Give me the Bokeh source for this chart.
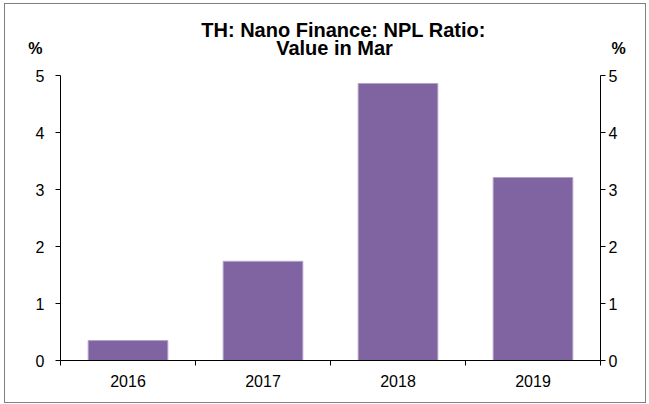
from bokeh.plotting import figure
from bokeh.models import Range1d, LinearAxis, FixedTicker, Label
from bokeh.embed import file_html
from bokeh.resources import INLINE

# ---- data ----
years = ["2016", "2017", "2018", "2019"]
npl_ratio = [0.35, 1.74, 4.86, 3.21]
y_ticks = [0, 1, 2, 3, 4, 5]
title_lines = ["TH: Nano Finance: NPL Ratio:", "Value in Mar"]
unit_label = "%"

# ---- layout constants ----
W, H = 640, 398
FRAME_TOP_GAP = 71          # px between canvas top and the value-5 level
FRAME_H = 356               # px of frame (canvas top .. zero line)
BAR_COLOR = "#8064A2"
BAR_EDGE = "#B3A2C7"
FONT = "Liberation Sans"
TICK_SIZE = "16px"

n = len(years)
centers = [i + 0.5 for i in range(n)]
bounds = list(range(n + 1))
y_lo, y_hi = y_ticks[0], y_ticks[-1]
px_per_unit = (FRAME_H - FRAME_TOP_GAP) / (y_hi - y_lo)
y_top = y_hi + FRAME_TOP_GAP / px_per_unit
unit_y = y_hi + 27 / px_per_unit

p = figure(width=W, height=H, output_backend="svg", toolbar_location=None,
           x_range=Range1d(0, n), y_range=Range1d(y_lo, y_top),
           min_border_left=55, min_border_right=45, min_border_top=0,
           min_border_bottom=H - FRAME_H,
           styles={"outline": "1px solid #808080",
                   "margin-left": "5px", "margin-top": "4px"})

p.outline_line_color = None
p.background_fill_color = "white"
p.border_fill_color = "white"
p.xgrid.visible = False
p.ygrid.visible = False

p.vbar(x=centers, top=npl_ratio, width=0.59, fill_color=BAR_COLOR,
       line_color=BAR_EDGE, line_width=1)

# x axis: labels at centers, ticks at category boundaries
xa = p.xaxis[0]
xa.ticker = FixedTicker(ticks=centers, minor_ticks=bounds)
xa.major_label_overrides = {c: y for c, y in zip(centers, years)}
xa.major_tick_out = 0
xa.major_tick_in = 0
xa.minor_tick_out = 5
xa.minor_tick_in = 0
xa.minor_tick_line_color = "black"
xa.axis_line_color = "black"
xa.major_label_standoff = 9
xa.major_label_text_font = FONT
xa.major_label_text_font_size = TICK_SIZE
xa.major_label_text_color = "black"


def style_y(ax, standoff):
    ax.bounds = (y_lo, y_hi)
    ax.minor_tick_out = 0
    ax.minor_tick_in = 0
    ax.major_tick_out = 5
    ax.major_tick_in = 0
    ax.axis_line_color = "black"
    ax.major_tick_line_color = "black"
    ax.major_label_standoff = standoff
    ax.major_label_text_font = FONT
    ax.major_label_text_font_size = TICK_SIZE
    ax.major_label_text_color = "black"


ya = p.yaxis[0]
ya.ticker = FixedTicker(ticks=y_ticks)
style_y(ya, 11)

ra = LinearAxis(ticker=FixedTicker(ticks=y_ticks))
style_y(ra, 3)
p.add_layout(ra, "right")


def unit_axis(standoff):
    ax = LinearAxis(ticker=FixedTicker(ticks=[unit_y]))
    ax.major_label_overrides = {unit_y: unit_label}
    ax.axis_line_color = None
    ax.major_tick_line_color = None
    ax.minor_tick_line_color = None
    ax.major_tick_out = 0
    ax.major_tick_in = 0
    ax.minor_tick_out = 0
    ax.minor_tick_in = 0
    ax.major_label_standoff = standoff
    ax.major_label_text_font = FONT
    ax.major_label_text_font_size = "16px"
    ax.major_label_text_font_style = "bold"
    ax.major_label_text_color = "black"
    return ax


p.add_layout(unit_axis(-10), "left")
p.add_layout(unit_axis(-9), "right")


def canvas_label(x, y, text, size):
    return Label(x=x, y=y, x_units="canvas", y_units="canvas", text=text,
                 text_align="center", text_baseline="alphabetic",
                 text_font=FONT, text_font_size=size,
                 text_font_style="bold", text_color="black")


p.add_layout(canvas_label(338, 25, title_lines[0], "20px"))
p.add_layout(canvas_label(329, 43, title_lines[1], "20px"))

open("out.html", "w").write(file_html(p, INLINE))
